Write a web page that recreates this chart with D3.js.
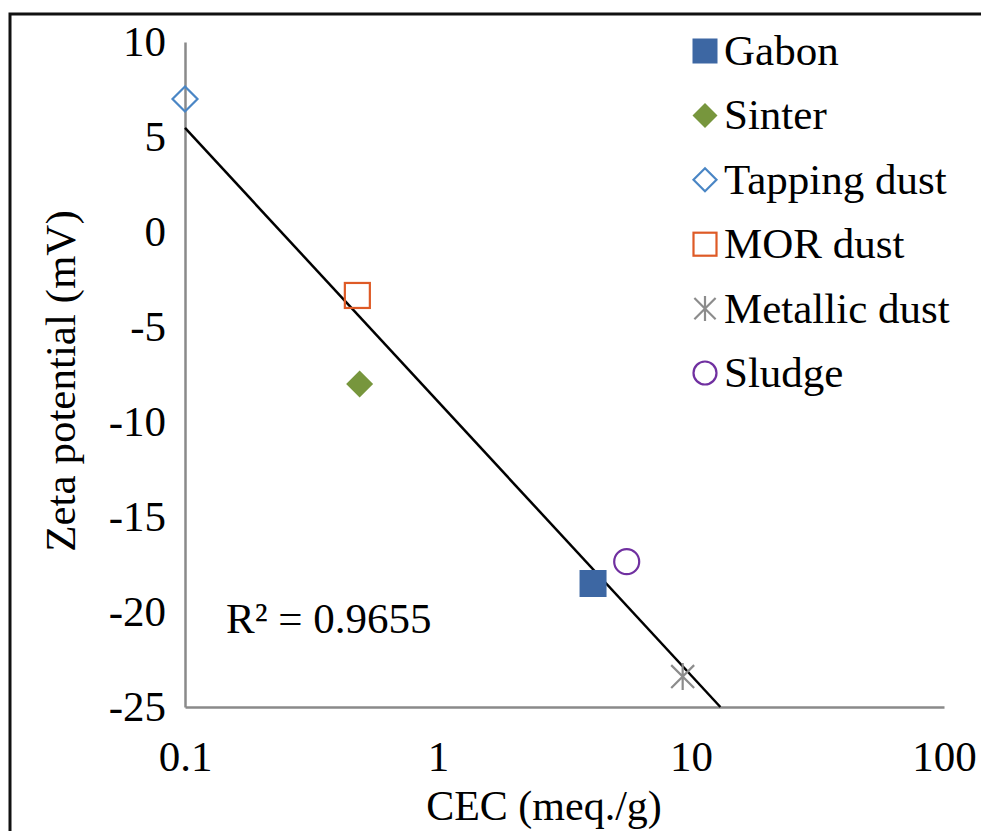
<!DOCTYPE html>
<html>
<head>
<meta charset="utf-8">
<script src="https://cdn.jsdelivr.net/npm/d3@7"></script>
<style>
  body { margin: 0; background: #fff; }
  text { font-family: "Liberation Serif", "Times New Roman", serif; fill: #000; }
</style>
</head>
<body>
<div class="chart"></div>
<script>
const width = 981;
const height = 831;
const margin = { top: 42, left: 185, bottom: 124, right: 37 };

// samples: CEC (meq./g) vs zeta potential (mV)
const names = ['Gabon', 'Sinter', 'Tapping dust', 'MOR dust', 'Metallic dust', 'Sludge'];
const cec = [4.1, 0.49, 0.1, 0.48, 9.27, 5.57];
const zeta = [-18.5, -8.0, 7.0, -3.34, -23.4, -17.35];
const colors = ['#3d67a3', '#77963d', '#4a86c5', '#de5a26', '#8c8c8c', '#7030a0'];
const shapes = ['square', 'diamond', 'diamondOpen', 'squareOpen', 'star', 'circle'];

const xTicks = [0.1, 1, 10, 100];
const yTicks = [10, 5, 0, -5, -10, -15, -20, -25];

const svg = d3.select('.chart').append('svg')
  .attr('width', width)
  .attr('height', height);

// outer frame
svg.append('rect')
  .attr('x', 10).attr('y', 14)
  .attr('width', width + 10).attr('height', height + 10)
  .attr('fill', 'none').attr('stroke', '#111').attr('stroke-width', 3);

const x = d3.scaleLog().domain([0.1, 100]).range([margin.left, width - margin.right]);
const y = d3.scaleLinear().domain([-25, 10]).range([height - margin.bottom, margin.top]);

const xAxis = svg.append('g')
  .attr('transform', `translate(0,${y(-25)})`)
  .call(d3.axisBottom(x).tickValues(xTicks).tickSize(0).tickPadding(33)
    .tickFormat(d => d < 1 ? '0.1' : String(d)));
const yAxis = svg.append('g')
  .attr('transform', `translate(${x(0.1)},0)`)
  .call(d3.axisLeft(y).tickValues(yTicks).tickSize(0).tickPadding(19)
    .tickFormat(d => String(d)));

[xAxis, yAxis].forEach(g => {
  g.select('.domain').attr('stroke', '#8a8a8a').attr('stroke-width', 2.5);
  g.selectAll('text').attr('font-size', 43).attr('fill', '#000');
});

svg.append('text')
  .attr('x', 544).attr('y', 820)
  .attr('text-anchor', 'middle').attr('font-size', 42)
  .text('CEC (meq./g)');

svg.append('text')
  .attr('transform', `translate(75,381) rotate(-90)`)
  .attr('text-anchor', 'middle').attr('font-size', 43)
  .text('Zeta potential (mV)');

// logarithmic trend line fitted to the samples, clipped at the axis bottom
const lx = cec.map(Math.log10);
const mx = d3.mean(lx), my = d3.mean(zeta);
const sxy = d3.sum(lx, (v, i) => (v - mx) * (zeta[i] - my));
const sxx = d3.sum(lx, v => (v - mx) * (v - mx));
const slope = sxy / sxx;
const icpt = my - slope * mx;
const xEnd = Math.pow(10, (-25 - icpt) / slope);
const trend = [0.1, xEnd].map(v => ({ cx: v, cy: icpt + slope * Math.log10(v) }));

svg.append('path').datum(trend)
  .attr('d', d3.line().x(d => x(d.cx)).y(d => y(d.cy)))
  .attr('fill', 'none').attr('stroke', '#000').attr('stroke-width', 2.5);

svg.append('text')
  .attr('x', 226).attr('y', 633).attr('font-size', 43)
  .text('R² = 0.9655');

function marker(g, shape, color, s) {
  const h = s / 2;
  if (shape === 'square') {
    g.append('rect').attr('x', -h).attr('y', -h).attr('width', s).attr('height', s).attr('fill', color);
  } else if (shape === 'squareOpen') {
    g.append('rect').attr('x', -h + 1).attr('y', -h + 1).attr('width', s - 2).attr('height', s - 2)
      .attr('fill', 'none').attr('stroke', color).attr('stroke-width', 2.2);
  } else if (shape === 'diamond') {
    g.append('path').attr('d', `M0,${-h}L${h},0L0,${h}L${-h},0Z`).attr('fill', color);
  } else if (shape === 'diamondOpen') {
    g.append('path').attr('d', `M0,${-h + 1}L${h - 1},0L0,${h - 1}L${-h + 1},0Z`)
      .attr('fill', 'none').attr('stroke', color).attr('stroke-width', 2.2);
  } else if (shape === 'circle') {
    g.append('circle').attr('r', h - 1).attr('fill', 'none').attr('stroke', color).attr('stroke-width', 2.2);
  } else if (shape === 'star') {
    const d = h * 0.85;
    g.append('path').attr('d', `M0,${-h}V${h}M${-d},${-d}L${d},${d}M${-d},${d}L${d},${-d}`)
      .attr('fill', 'none').attr('stroke', color).attr('stroke-width', 2.2);
  }
}

const pts = names.map((n, i) => ({ name: n, cx: cec[i], cy: zeta[i], color: colors[i], shape: shapes[i] }));
const drawOrder = [2, 3, 1, 0, 5, 4];
drawOrder.forEach(i => {
  const d = pts[i];
  const g = svg.append('g').attr('transform', `translate(${x(d.cx)},${y(d.cy)})`);
  marker(g, d.shape, d.color, 27);
});

// legend
const legend = svg.append('g').attr('transform', 'translate(705,51)');
pts.forEach((d, i) => {
  const row = legend.append('g').attr('transform', `translate(0,${i * 64.4})`);
  marker(row, d.shape, d.color, 25);
  row.append('text').attr('x', 19).attr('y', 14).attr('font-size', 43).text(d.name);
});
</script>
</body>
</html>
